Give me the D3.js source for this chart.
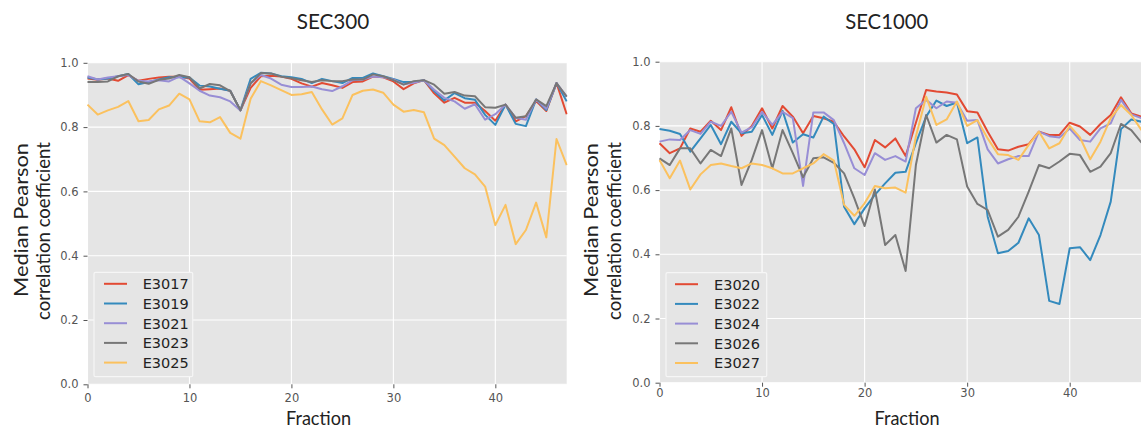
<!DOCTYPE html>
<html>
<head>
<meta charset="utf-8">
<script src="https://cdn.jsdelivr.net/npm/d3@7"></script>
<style>
  html, body { margin: 0; padding: 0; background: #ffffff; }
  svg { display: block; }
</style>
</head>
<body>
<svg id="chart" width="1141" height="429"></svg>
<script>
// ---------- DATA ----------
const fractions = d3.range(0, 48);
const xTicks = [0, 10, 20, 30, 40];
const yTicks = [0.0, 0.2, 0.4, 0.6, 0.8, 1.0];
const colors = ["#E24A33", "#348ABD", "#988ED5", "#777777", "#FBC15E"];

const sec300Names = ["E3017", "E3019", "E3021", "E3023", "E3025"];
const E3017 = [0.951,0.947,0.951,0.944,0.962,0.944,0.950,0.954,0.957,0.957,0.951,0.916,0.918,0.920,0.913,0.852,0.922,0.958,0.960,0.957,0.950,0.936,0.926,0.937,0.930,0.922,0.940,0.942,0.957,0.955,0.942,0.918,0.936,0.946,0.905,0.876,0.891,0.876,0.876,0.850,0.820,0.870,0.818,0.834,0.881,0.850,0.937,0.840];
const E3019 = [0.954,0.948,0.951,0.958,0.965,0.933,0.940,0.948,0.955,0.955,0.954,0.929,0.926,0.919,0.913,0.852,0.950,0.969,0.967,0.958,0.955,0.950,0.937,0.950,0.943,0.937,0.953,0.953,0.967,0.958,0.950,0.940,0.940,0.946,0.912,0.883,0.906,0.890,0.885,0.838,0.807,0.870,0.810,0.803,0.886,0.853,0.937,0.880];
const E3021 = [0.958,0.948,0.954,0.958,0.962,0.944,0.942,0.946,0.942,0.957,0.936,0.913,0.898,0.893,0.880,0.852,0.936,0.962,0.951,0.932,0.925,0.925,0.926,0.918,0.912,0.927,0.946,0.948,0.957,0.955,0.948,0.933,0.938,0.946,0.916,0.891,0.880,0.857,0.871,0.823,0.840,0.870,0.829,0.823,0.886,0.857,0.937,0.895];
const E3023 = [0.940,0.940,0.942,0.958,0.965,0.942,0.935,0.947,0.951,0.962,0.955,0.920,0.934,0.930,0.912,0.852,0.936,0.968,0.967,0.957,0.952,0.946,0.940,0.946,0.943,0.943,0.948,0.948,0.964,0.958,0.946,0.932,0.943,0.946,0.932,0.904,0.909,0.898,0.896,0.862,0.860,0.870,0.829,0.834,0.886,0.865,0.937,0.895];
const E3025 = [0.870,0.839,0.852,0.863,0.881,0.818,0.822,0.855,0.867,0.904,0.886,0.818,0.815,0.831,0.782,0.764,0.888,0.943,0.930,0.915,0.900,0.902,0.909,0.855,0.808,0.827,0.900,0.913,0.917,0.907,0.870,0.848,0.853,0.846,0.764,0.744,0.708,0.672,0.653,0.615,0.495,0.558,0.436,0.480,0.565,0.457,0.763,0.682];

const sec1000Names = ["E3020", "E3022", "E3024", "E3026", "E3027"];
const E3020 = [0.746,0.715,0.730,0.792,0.782,0.816,0.787,0.858,0.769,0.800,0.855,0.792,0.862,0.829,0.777,0.831,0.824,0.813,0.767,0.727,0.671,0.756,0.733,0.761,0.706,0.810,0.912,0.907,0.904,0.898,0.846,0.842,0.782,0.727,0.723,0.735,0.743,0.782,0.772,0.772,0.810,0.798,0.772,0.806,0.834,0.889,0.839,0.829];
const E3022 = [0.790,0.785,0.775,0.720,0.761,0.803,0.743,0.813,0.777,0.782,0.834,0.772,0.847,0.748,0.774,0.764,0.829,0.806,0.548,0.494,0.543,0.585,0.621,0.654,0.657,0.746,0.829,0.879,0.862,0.873,0.746,0.764,0.517,0.403,0.410,0.436,0.512,0.460,0.255,0.245,0.419,0.422,0.382,0.460,0.564,0.790,0.820,0.813];
const E3024 = [0.751,0.758,0.756,0.787,0.775,0.813,0.800,0.844,0.779,0.796,0.844,0.803,0.844,0.824,0.613,0.842,0.842,0.818,0.746,0.668,0.647,0.715,0.694,0.706,0.689,0.855,0.881,0.855,0.876,0.872,0.816,0.818,0.727,0.683,0.696,0.706,0.706,0.782,0.768,0.764,0.792,0.756,0.751,0.792,0.808,0.881,0.836,0.824];
const E3026 = [0.699,0.678,0.730,0.730,0.683,0.725,0.706,0.792,0.616,0.694,0.787,0.668,0.787,0.715,0.640,0.699,0.702,0.685,0.652,0.574,0.488,0.602,0.429,0.460,0.348,0.678,0.834,0.748,0.772,0.758,0.611,0.557,0.538,0.455,0.476,0.517,0.595,0.678,0.668,0.689,0.713,0.709,0.657,0.673,0.715,0.806,0.787,0.748];
const E3027 = [0.694,0.637,0.692,0.602,0.649,0.678,0.683,0.675,0.668,0.683,0.678,0.668,0.652,0.652,0.668,0.683,0.712,0.692,0.554,0.520,0.559,0.613,0.606,0.608,0.592,0.767,0.891,0.803,0.820,0.876,0.800,0.818,0.761,0.712,0.709,0.694,0.741,0.782,0.730,0.746,0.800,0.764,0.696,0.751,0.824,0.865,0.834,0.787];

// ---------- DRAW ----------
const svg = d3.select("#chart");
const tickFont = "'DejaVu Sans', sans-serif";
const labelFont = "Lato, 'Open Sans', sans-serif";

function drawPanel(cfg) {
  const x = d3.scaleLinear().domain([0, 47]).range([cfg.x0, cfg.x1]);
  const y = d3.scaleLinear().domain([0, 1]).range([cfg.y0, cfg.y1]);
  const g = svg.append("g");

  const clipId = "clip" + cfg.id;
  svg.append("clipPath").attr("id", clipId).append("rect")
    .attr("x", cfg.x0 - 1).attr("y", cfg.y1 - 2)
    .attr("width", cfg.x1 - cfg.x0 + 2).attr("height", cfg.y0 - cfg.y1 + 4);

  g.append("rect").attr("x", cfg.x0).attr("y", cfg.y1)
    .attr("width", cfg.x1 - cfg.x0).attr("height", cfg.y0 - cfg.y1)
    .attr("fill", "#E5E5E5");

  // grid
  g.selectAll(".gx").data(xTicks).enter().append("line")
    .attr("x1", d => x(d)).attr("x2", d => x(d))
    .attr("y1", cfg.y1).attr("y2", cfg.y0)
    .attr("stroke", "#ffffff").attr("stroke-width", 1.1);
  g.selectAll(".gy").data(yTicks).enter().append("line")
    .attr("x1", cfg.x0).attr("x2", cfg.x1)
    .attr("y1", d => y(d)).attr("y2", d => y(d))
    .attr("stroke", "#ffffff").attr("stroke-width", 1.1);

  // axes via d3
  const xAxis = d3.axisBottom(x).tickValues(xTicks).tickFormat(d3.format("d")).tickSize(4).tickPadding(cfg.xPad);
  const yAxis = d3.axisLeft(y).tickValues(yTicks).tickFormat(d3.format(".1f")).tickSize(4).tickPadding(5);
  const gx = g.append("g").attr("transform", `translate(0,${cfg.y0})`).call(xAxis);
  const gy = g.append("g").attr("transform", `translate(${cfg.x0},0)`).call(yAxis);
  [gx, gy].forEach(a => {
    a.select(".domain").remove();
    a.selectAll(".tick line").attr("stroke", "#555555").attr("stroke-width", 1);
    a.selectAll(".tick text").attr("fill", "#555555")
      .style("font-family", tickFont).style("font-size", "11.5px");
  });

  // lines
  const line = d3.line().x((d, i) => x(fractions[i])).y(d => y(d));
  const lg = g.append("g").attr("clip-path", `url(#${clipId})`);
  cfg.series.forEach((s, k) => {
    lg.append("path").datum(s).attr("d", line)
      .attr("fill", "none").attr("stroke", colors[k])
      .attr("stroke-width", 2).attr("stroke-linejoin", "round");
  });

  // legend
  const L = cfg.legend;
  g.append("rect").attr("x", L.x).attr("y", L.y).attr("width", L.w).attr("height", L.h)
    .attr("fill", "#E5E5E5").attr("stroke", "#f6f6f6").attr("stroke-width", 1.2).attr("rx", 1.5);
  cfg.names.forEach((n, k) => {
    const yy = L.y + 11.5 + k * 19.7;
    g.append("line").attr("x1", L.lx).attr("x2", L.lx + 23).attr("y1", yy).attr("y2", yy)
      .attr("stroke", colors[k]).attr("stroke-width", 2);
    g.append("text").attr("x", L.tx).attr("y", yy + 5.3).text(n)
      .attr("fill", "#222222").style("font-family", tickFont).style("font-size", "14.5px");
  });

  // titles and labels
  g.append("text").attr("x", cfg.titleX).attr("y", 29).attr("text-anchor", "middle")
    .text(cfg.title).attr("fill", "#222").style("font-family", labelFont).style("font-size", "21px")
    .attr("textLength", cfg.titleW).attr("lengthAdjust", "spacingAndGlyphs");
  g.append("text").attr("x", cfg.fracX).attr("y", cfg.fracY).attr("text-anchor", "middle")
    .text("Fraction").attr("fill", "#222").style("font-family", labelFont).style("font-size", "19px")
    .attr("textLength", 65).attr("lengthAdjust", "spacingAndGlyphs");
  g.append("text").attr("transform", `translate(${cfg.yl1},220) rotate(-90)`).attr("text-anchor", "middle")
    .text("Median Pearson").attr("fill", "#222").style("font-family", labelFont).style("font-size", "19px")
    .attr("textLength", 154).attr("lengthAdjust", "spacingAndGlyphs");
  g.append("text").attr("transform", `translate(${cfg.yl2},231) rotate(-90)`).attr("text-anchor", "middle")
    .text("correlation coefficient").attr("fill", "#222").style("font-family", labelFont).style("font-size", "19px")
    .attr("textLength", 178).attr("lengthAdjust", "spacingAndGlyphs");
}

drawPanel({
  id: "a", x0: 87.5, x1: 566.7, y0: 384.3, y1: 62.8, xPad: 6,
  series: [E3017, E3019, E3021, E3023, E3025], names: sec300Names,
  legend: { x: 94, y: 272.3, w: 98.7, h: 104.4, lx: 104, tx: 142.7 },
  title: "SEC300", titleX: 333, titleW: 72.6,
  fracX: 318.5, fracY: 424.5, yl1: 28, yl2: 50
});
drawPanel({
  id: "b", x0: 659.5, x1: 1141.5, y0: 382.7, y1: 61.7, xPad: 2,
  series: [E3020, E3022, E3024, E3026, E3027], names: sec1000Names,
  legend: { x: 666, y: 272.7, w: 100.7, h: 104, lx: 675, tx: 714 },
  title: "SEC1000", titleX: 886.7, titleW: 83,
  fracX: 907, fracY: 424.5, yl1: 598, yl2: 621
});
</script>
</body>
</html>
